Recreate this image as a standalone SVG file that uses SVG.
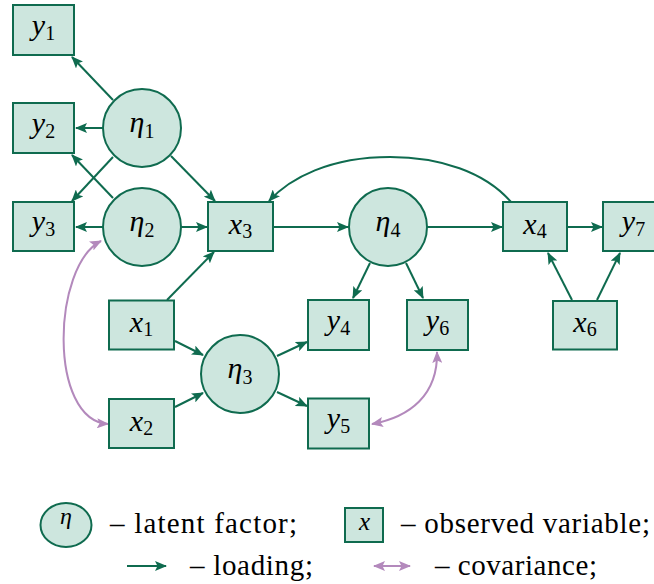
<svg xmlns="http://www.w3.org/2000/svg" width="654" height="584" viewBox="0 0 654 584">
<defs>
<marker id="ah" markerUnits="userSpaceOnUse" markerWidth="12" markerHeight="10" viewBox="0 0 12 10" refX="11" refY="5" orient="auto"><path d="M0,0 L12,5 L0,10 L2.5,5 z" fill="#0f6b4f"/></marker>
<marker id="ap" markerUnits="userSpaceOnUse" markerWidth="12" markerHeight="10" viewBox="0 0 12 10" refX="11" refY="5" orient="auto-start-reverse"><path d="M0,0 L12,5 L0,10 L2.5,5 z" fill="#b389bc"/></marker>
</defs>
<g id="connectors" fill="none" stroke-width="2">
<g stroke="#0f6b4f" marker-end="url(#ah)">
<path d="M113,100 L72,57"/>
<path d="M103,128 L76,128"/>
<path d="M113,157 L72,201"/>
<path d="M113,198 L72,155"/>
<path d="M103,227 L76,227"/>
<path d="M171,156 L215,201"/>
<path d="M181,227 L207,227"/>
<path d="M167,300 L214,252"/>
<path d="M273,227 L348,227"/>
<path d="M427,227 L502,227"/>
<path d="M567,227 L602,227"/>
<path d="M511,202 C485,172 440,157 390,157 C330,157 290,178 269,201"/>
<path d="M370,263 L353,298"/>
<path d="M406,263 L423,298"/>
<path d="M572,300 L548,253"/>
<path d="M597,300 L620,253"/>
<path d="M175,341 L203,355"/>
<path d="M175,407 L203,393"/>
<path d="M277,356 L307,342"/>
<path d="M277,392 L307,406"/>
</g>
<g stroke="#b389bc" marker-start="url(#ap)" marker-end="url(#ap)">
<path d="M101,241 C52,266 48,420 108,424"/>
<path d="M372,424 C410,417 438,395 437,352"/>
</g>
</g>
<g fill="#cde6de" stroke="#0f6b4f" stroke-width="2">
<g id="y1"><rect x="13" y="5" width="61" height="50"/><text style="font-family:'Liberation Serif',serif;font-size:30px;font-style:italic;fill:#000;stroke:none;text-anchor:middle" x="43.5" y="34.5">y<tspan style="font-style:normal;font-size:20px" dy="5">1</tspan></text></g>
<g id="y2"><rect x="13" y="103" width="61" height="50"/><text style="font-family:'Liberation Serif',serif;font-size:30px;font-style:italic;fill:#000;stroke:none;text-anchor:middle" x="43.5" y="132.5">y<tspan style="font-style:normal;font-size:20px" dy="5">2</tspan></text></g>
<g id="y3"><rect x="13" y="202" width="61" height="49"/><text style="font-family:'Liberation Serif',serif;font-size:30px;font-style:italic;fill:#000;stroke:none;text-anchor:middle" x="43.5" y="231">y<tspan style="font-style:normal;font-size:20px" dy="5">3</tspan></text></g>
<g id="eta1"><circle cx="142" cy="128" r="39"/><text style="font-family:'Liberation Serif',serif;font-size:30px;font-style:italic;fill:#000;stroke:none;text-anchor:middle" x="142" y="132">η<tspan style="font-style:normal;font-size:20px" dy="6">1</tspan></text></g>
<g id="eta2"><circle cx="142" cy="227" r="39"/><text style="font-family:'Liberation Serif',serif;font-size:30px;font-style:italic;fill:#000;stroke:none;text-anchor:middle" x="142" y="231">η<tspan style="font-style:normal;font-size:20px" dy="6">2</tspan></text></g>
<g id="x3"><rect x="208" y="202" width="65" height="49"/><text style="font-family:'Liberation Serif',serif;font-size:30px;font-style:italic;fill:#000;stroke:none;text-anchor:middle" x="240.5" y="233.5">x<tspan style="font-style:normal;font-size:20px" dy="4">3</tspan></text></g>
<g id="eta4"><circle cx="388" cy="227" r="39"/><text style="font-family:'Liberation Serif',serif;font-size:30px;font-style:italic;fill:#000;stroke:none;text-anchor:middle" x="388" y="231">η<tspan style="font-style:normal;font-size:20px" dy="6">4</tspan></text></g>
<g id="x4"><rect x="503" y="202" width="64" height="49"/><text style="font-family:'Liberation Serif',serif;font-size:30px;font-style:italic;fill:#000;stroke:none;text-anchor:middle" x="535" y="233.5">x<tspan style="font-style:normal;font-size:20px" dy="4">4</tspan></text></g>
<g id="y7"><rect x="603" y="202" width="61" height="49"/><text style="font-family:'Liberation Serif',serif;font-size:30px;font-style:italic;fill:#000;stroke:none;text-anchor:middle" x="633.5" y="231">y<tspan style="font-style:normal;font-size:20px" dy="5">7</tspan></text></g>
<g id="x1"><rect x="109" y="300.5" width="65" height="49"/><text style="font-family:'Liberation Serif',serif;font-size:30px;font-style:italic;fill:#000;stroke:none;text-anchor:middle" x="141.5" y="332">x<tspan style="font-style:normal;font-size:20px" dy="4">1</tspan></text></g>
<g id="x2"><rect x="109" y="399" width="65" height="49"/><text style="font-family:'Liberation Serif',serif;font-size:30px;font-style:italic;fill:#000;stroke:none;text-anchor:middle" x="141.5" y="430.5">x<tspan style="font-style:normal;font-size:20px" dy="4">2</tspan></text></g>
<g id="eta3"><circle cx="240" cy="374" r="39"/><text style="font-family:'Liberation Serif',serif;font-size:30px;font-style:italic;fill:#000;stroke:none;text-anchor:middle" x="240" y="378">η<tspan style="font-style:normal;font-size:20px" dy="6">3</tspan></text></g>
<g id="y4"><rect x="308" y="300" width="61" height="50"/><text style="font-family:'Liberation Serif',serif;font-size:30px;font-style:italic;fill:#000;stroke:none;text-anchor:middle" x="338.5" y="329.5">y<tspan style="font-style:normal;font-size:20px" dy="5">4</tspan></text></g>
<g id="y6"><rect x="407" y="300" width="61" height="50"/><text style="font-family:'Liberation Serif',serif;font-size:30px;font-style:italic;fill:#000;stroke:none;text-anchor:middle" x="437.5" y="329.5">y<tspan style="font-style:normal;font-size:20px" dy="5">6</tspan></text></g>
<g id="x6"><rect x="553" y="301" width="64" height="48.5"/><text style="font-family:'Liberation Serif',serif;font-size:30px;font-style:italic;fill:#000;stroke:none;text-anchor:middle" x="585" y="332">x<tspan style="font-style:normal;font-size:20px" dy="4">6</tspan></text></g>
<g id="y5"><rect x="308" y="398.5" width="61" height="50"/><text style="font-family:'Liberation Serif',serif;font-size:30px;font-style:italic;fill:#000;stroke:none;text-anchor:middle" x="338.5" y="428">y<tspan style="font-style:normal;font-size:20px" dy="5">5</tspan></text></g>
</g>
<g id="legend">
<ellipse cx="66" cy="525" rx="25.5" ry="22" fill="#cde6de" stroke="#0f6b4f" stroke-width="2"/>
<text style="font-family:'Liberation Serif',serif;font-size:24px;font-style:italic;text-anchor:middle" x="66" y="524">η</text>
<text style="font-family:'Liberation Serif',serif;font-size:29px" x="110" y="533" textLength="187">– latent factor;</text>
<rect x="345" y="508" width="38" height="34" fill="#cde6de" stroke="#0f6b4f" stroke-width="2"/>
<text style="font-family:'Liberation Serif',serif;font-size:25px;font-style:italic;text-anchor:middle" x="364.5" y="529.5">x</text>
<text style="font-family:'Liberation Serif',serif;font-size:29px" x="401" y="533" textLength="249">– observed variable;</text>
<path d="M127,566 L166,566" fill="none" stroke="#0f6b4f" stroke-width="2" marker-end="url(#ah)"/>
<text style="font-family:'Liberation Serif',serif;font-size:29px" x="190" y="575" textLength="123">– loading;</text>
<path d="M374,566 L410,566" fill="none" stroke="#b389bc" stroke-width="2" marker-start="url(#ap)" marker-end="url(#ap)"/>
<text style="font-family:'Liberation Serif',serif;font-size:29px" x="435" y="575" textLength="162">– covariance;</text>
</g>
</svg>
